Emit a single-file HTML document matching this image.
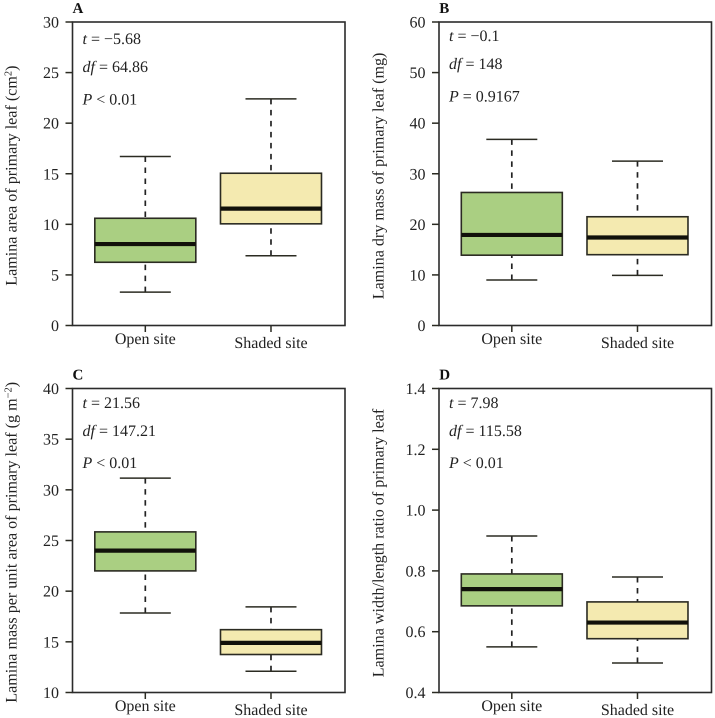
<!DOCTYPE html>
<html>
<head>
<meta charset="utf-8">
<style>
html,body{margin:0;padding:0;background:#fff;}
svg{display:block;}
text{font-family:"Liberation Serif",serif;fill:#222;font-size:16px;text-rendering:geometricPrecision;}
.title{font-size:16.1px;}
.letter{font-weight:bold;font-size:15px;fill:#111;}
.i{font-style:italic;}
</style>
</head>
<body>
<svg id="chart" xmlns="http://www.w3.org/2000/svg" width="715" height="718" viewBox="0 0 715 718">
  <g>
    <text class="letter" x="72.5" y="13">A</text>
    <text class="title" transform="translate(16.7,285.7) rotate(-90)">Lamina area of primary leaf (cm<tspan dy="-5" font-size="10.5">2</tspan><tspan dy="5">)</tspan></text>
    <text x="82.5" y="44"><tspan class="i">t</tspan> = −5.68</text>
    <text x="82.5" y="72"><tspan class="i">df</tspan> = 64.86</text>
    <text x="82.5" y="104.5"><tspan class="i">P</tspan> &lt; 0.01</text>
  </g>
  <g>
    <text class="letter" x="439.3" y="13">B</text>
    <text class="title" transform="translate(383.3,299.3) rotate(-90)">Lamina dry mass of primary leaf (mg)</text>
    <text x="449" y="41"><tspan class="i">t</tspan> = −0.1</text>
    <text x="449" y="69"><tspan class="i">df</tspan> = 148</text>
    <text x="449" y="101.5"><tspan class="i">P</tspan> = 0.9167</text>
  </g>
  <g>
    <text class="letter" x="72.5" y="379.5">C</text>
    <text class="title" transform="translate(16.7,702.7) rotate(-90)">Lamina mass per unit area of primary leaf (g m<tspan dy="-5" font-size="10.5">−2</tspan><tspan dy="5">)</tspan></text>
    <text x="82.5" y="408"><tspan class="i">t</tspan> = 21.56</text>
    <text x="82.5" y="436"><tspan class="i">df</tspan> = 147.21</text>
    <text x="82.5" y="468"><tspan class="i">P</tspan> &lt; 0.01</text>
  </g>
  <g>
    <text class="letter" x="439.3" y="379.5">D</text>
    <text class="title" transform="translate(383.3,677.3) rotate(-90)">Lamina width/length ratio of primary leaf</text>
    <text x="449" y="408"><tspan class="i">t</tspan> = 7.98</text>
    <text x="449" y="436"><tspan class="i">df</tspan> = 115.58</text>
    <text x="449" y="468"><tspan class="i">P</tspan> &lt; 0.01</text>
  </g>
</svg>
<script>
const categories = ["Open site", "Shaded site"];

const panelATicks = ["0", "5", "10", "15", "20", "25", "30"];
const panelAOpen = [3.3, 6.25, 8.05, 10.6, 16.7];
const panelAShaded = [6.9, 10.05, 11.55, 15.05, 22.4];

const panelBTicks = ["0", "10", "20", "30", "40", "50", "60"];
const panelBOpen = [9, 13.9, 17.9, 26.3, 36.8];
const panelBShaded = [9.9, 14, 17.4, 21.5, 32.5];

const panelCTicks = ["10", "15", "20", "25", "30", "35", "40"];
const panelCOpen = [17.85, 22, 24, 25.85, 31.15];
const panelCShaded = [12.1, 13.75, 14.9, 16.2, 18.45];

const panelDTicks = ["0.4", "0.6", "0.8", "1.0", "1.2", "1.4"];
const panelDOpen = [0.55, 0.685, 0.74, 0.79, 0.915];
const panelDShaded = [0.497, 0.577, 0.63, 0.698, 0.78];

const svg = document.getElementById('chart');
const NS = 'http://www.w3.org/2000/svg';
const INK = '#2b2b22';

function make(parent, tag, attrs) {
  const node = document.createElementNS(NS, tag);
  for (const key in attrs) node.setAttribute(key, attrs[key]);
  parent.appendChild(node);
  return node;
}

function line(parent, x1, y1, x2, y2, width, color, dash) {
  const node = make(parent, 'line', {x1: x1, y1: y1, x2: x2, y2: y2, stroke: color || INK, 'stroke-width': width});
  if (dash) node.setAttribute('stroke-dasharray', dash);
  return node;
}

function drawPanel(key, left, right, top, bottom, ticks, open, shaded) {
  const group = make(svg, 'g', {});
  
  

  const lo = parseFloat(ticks[0]);
  const hi = parseFloat(ticks[ticks.length - 1]);
  const yScale = function (v) { return bottom - (v - lo) / (hi - lo) * (bottom - top); };
  const xScale = function (i) { return left + (right - left) * (i === 0 ? 0.2672 : 0.7284); };

  ticks.forEach(function (label) {
    const y = yScale(parseFloat(label));
    const tick = line(group, left - 7, y, left, y, 1.5);
    
    
    const text = make(group, 'text', {x: left - 13.5, y: y + 5.5, 'text-anchor': 'end'});
    text.textContent = label;
    
    
  });

  categories.forEach(function (name, i) {
    const values = i === 0 ? open : shaded;
    const fill = i === 0 ? '#aacf82' : '#f4eab0';
    const cx = xScale(i);
    const slug = i === 0 ? 'open-site' : 'shaded-site';

    const tick = line(group, cx, bottom, cx, bottom + 6.5, 1.5);
    
    

    const label = make(group, 'text', {x: cx, y: bottom + (i === 0 ? 18.5 : 22.5), 'text-anchor': 'middle'});
    label.textContent = name;
    
    

    const upper = line(group, cx, yScale(values[4]), cx, yScale(values[3]), 1.7, '#222', '5.5 5.5');
    
    

    const lower = line(group, cx, yScale(values[0]), cx, yScale(values[1]), 1.7, '#222', '5.5 5.5');
    
    

    const capHigh = line(group, cx - 25.5, yScale(values[4]), cx + 25.5, yScale(values[4]), 1.5);
    
    

    const capLow = line(group, cx - 25.5, yScale(values[0]), cx + 25.5, yScale(values[0]), 1.5);
    
    

    const box = make(group, 'rect', {
      x: cx - 50.5, width: 101,
      y: yScale(values[3]), height: yScale(values[1]) - yScale(values[3]),
      fill: fill, stroke: INK, 'stroke-width': 1.6
    });
    
    

    const median = line(group, cx - 50.5, yScale(values[2]), cx + 50.5, yScale(values[2]), 4.2, '#11110a');
    
    
  });

  const frame = make(group, 'rect', {
    x: left, y: top, width: right - left, height: bottom - top,
    fill: 'none', stroke: '#2b2b2b', 'stroke-width': 1.6
  });
  
  
}

drawPanel('a', 72.5, 345, 22, 325.5, panelATicks, panelAOpen, panelAShaded);
drawPanel('b', 439, 711.5, 22, 325.5, panelBTicks, panelBOpen, panelBShaded);
drawPanel('c', 72.5, 345, 388.5, 692.5, panelCTicks, panelCOpen, panelCShaded);
drawPanel('d', 439, 711.5, 388.5, 692.5, panelDTicks, panelDOpen, panelDShaded);
</script>
</body>
</html>
